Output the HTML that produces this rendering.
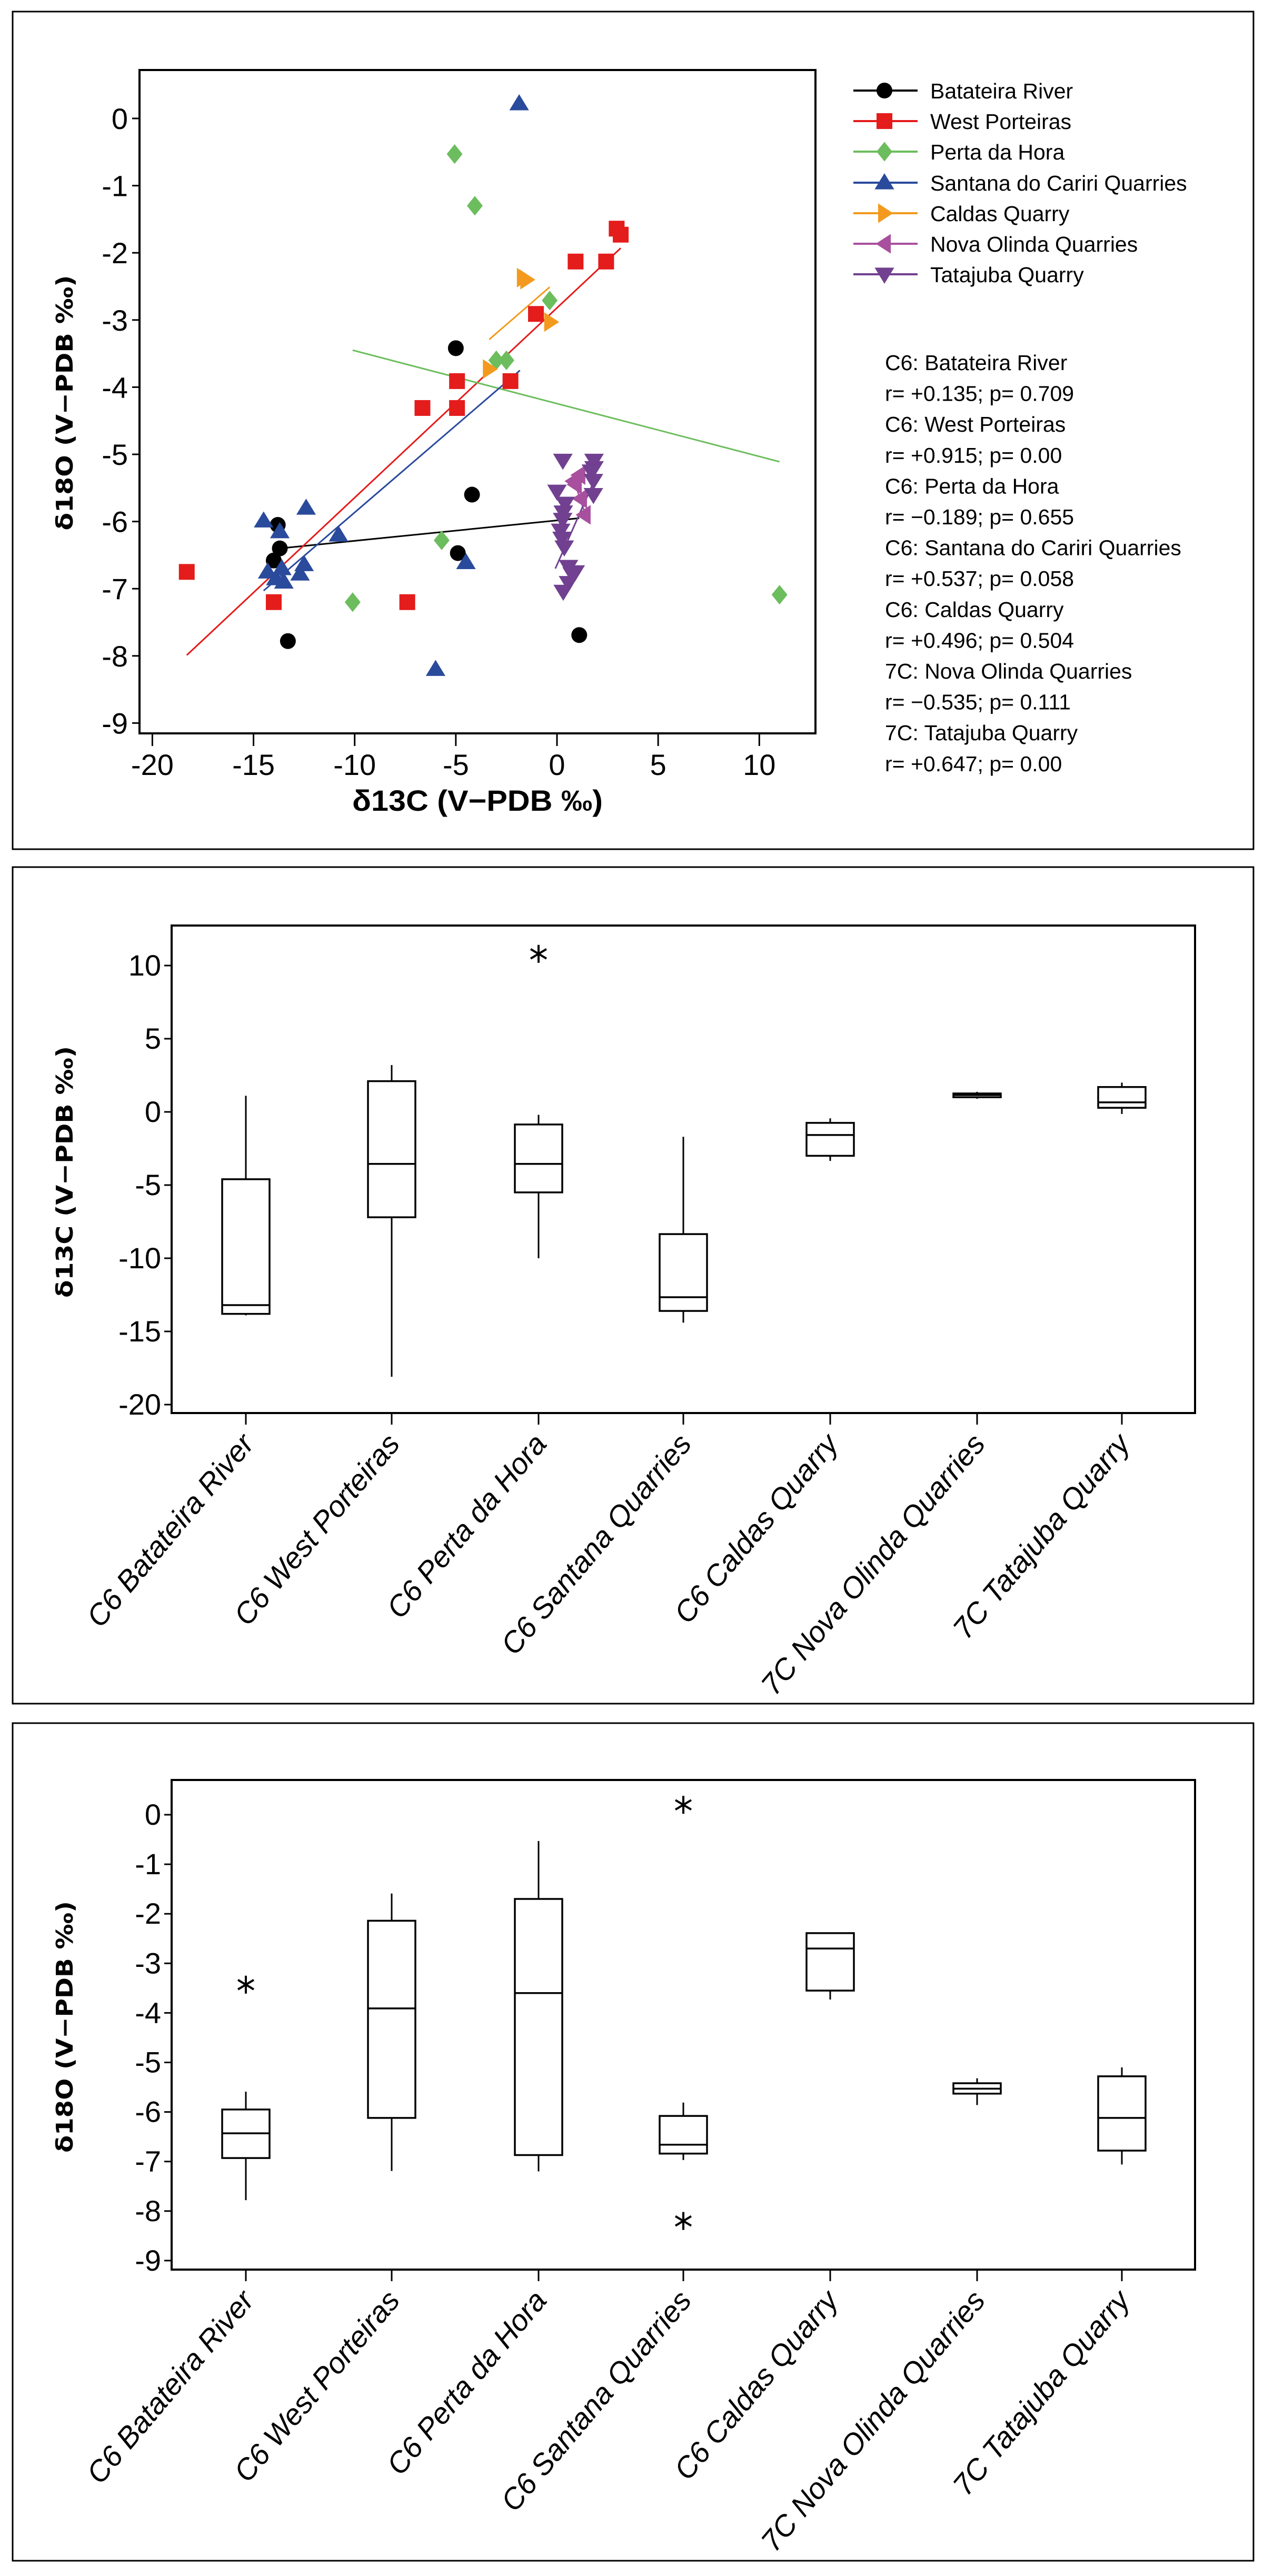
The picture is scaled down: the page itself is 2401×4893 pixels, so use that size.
<!DOCTYPE html>
<html><head><meta charset="utf-8"><style>
html,body{margin:0;padding:0;background:#fff}
svg{display:block}
text{font-family:"Liberation Sans Narrow","Liberation Sans",sans-serif;fill:#000}
.t{font-size:56px}
.lg{font-size:41px}
.bt{font-family:"DejaVu Sans","Liberation Sans",sans-serif;font-weight:bold;font-size:44px}
.xl{font-size:56px;font-style:italic}
</style></head><body>
<svg id="fig" width="2401" height="4893" viewBox="0 0 2401 4893" xmlns="http://www.w3.org/2000/svg">
<rect x="24" y="22" width="2357" height="1591" fill="none" stroke="#000" stroke-width="3"/>
<rect x="24" y="1647" width="2357" height="1589" fill="none" stroke="#000" stroke-width="3"/>
<rect x="24" y="3273" width="2357" height="1591" fill="none" stroke="#000" stroke-width="3"/>
<g id="scatter"></g>
<g id="box1"></g>
<g id="box2"></g>
</svg>
<script>
// ---------- scatter data ----------
const xTicks = [-20,-15,-10,-5,0,5,10];
const yTicks = [0,-1,-2,-3,-4,-5,-6,-7,-8,-9];
const seriesNames = ["Batateira River","West Porteiras","Perta da Hora","Santana do Cariri Quarries","Caldas Quarry","Nova Olinda Quarries","Tatajuba Quarry"];
const seriesColors = ["#000000","#e41c1c","#6cbd5d","#2a4a9c","#f39a1e","#a8509e","#714090"];
const seriesMarkers = ["circle","square","diamond","up","right","left","down"];
const batX = [-5.0,-4.2,-13.8,-13.7,-14.0,-4.9,-13.3,1.1];
const batY = [-3.42,-5.6,-6.05,-6.4,-6.58,-6.47,-7.78,-7.69];
const wpX = [-18.3,-14.0,-7.4,-6.65,-4.94,-4.94,-2.3,-1.04,0.92,2.43,2.95,3.15];
const wpY = [-6.75,-7.2,-7.2,-4.31,-3.91,-4.31,-3.91,-2.91,-2.13,-2.13,-1.64,-1.73];
const phX = [-5.06,-4.06,-0.36,-3.0,-2.5,-5.7,-10.1,11.0];
const phY = [-0.53,-1.3,-2.71,-3.6,-3.6,-6.28,-7.2,-7.09];
const scX = [-1.87,-14.5,-13.7,-12.4,-10.8,-14.3,-13.6,-13.5,-12.7,-12.5,-4.5,-6.0,-13.9];
const scY = [0.22,-5.99,-6.15,-5.8,-6.2,-6.75,-6.7,-6.9,-6.78,-6.64,-6.61,-8.2,-6.85];
const cqX = [-1.67,-1.5,-0.32,-3.35];
const cqY = [-2.37,-2.4,-3.03,-3.73];
const noX = [0.91,1.17,1.35,0.8,1.09];
const noY = [-5.45,-5.66,-5.9,-5.4,-5.31];
const tjX = [0.29,1.83,1.83,1.8,1.8,0.0,0.4,0.31,0.28,0.18,0.25,0.36,0.57,0.75,0.57,0.31,0.9,1.7];
const tjY = [-5.09,-5.09,-5.2,-5.39,-5.6,-5.55,-5.73,-5.86,-5.97,-6.13,-6.25,-6.38,-6.67,-6.78,-6.91,-7.04,-6.75,-5.25];
// fit line endpoints [x1,y1,x2,y2] per series
const fitBat = [-13.7,-6.4,1.1,-5.95];
const fitWP = [-18.3,-7.99,3.15,-1.93];
const fitPH = [-10.1,-3.45,11.0,-5.11];
const fitSC = [-14.5,-7.03,-1.83,-3.75];
const fitCQ = [-3.35,-3.29,-0.36,-2.51];
const fitNO = [0.8,-5.35,1.35,-5.85];
const fitTJ = [-0.08,-6.7,1.9,-5.35];
const statLines = ["C6: Batateira River","r= +0.135; p= 0.709","C6: West Porteiras","r= +0.915; p= 0.00","C6: Perta da Hora","r= \u22120.189; p= 0.655","C6: Santana do Cariri Quarries","r= +0.537; p= 0.058","C6: Caldas Quarry","r= +0.496; p= 0.504","7C: Nova Olinda Quarries","r= \u22120.535; p= 0.111","7C: Tatajuba Quarry","r= +0.647; p= 0.00"];

// ---------- boxplot data ----------
const boxCats = ["C6 Batateira River","C6 West Porteiras","C6 Perta da Hora","C6 Santana Quarries","C6 Caldas Quarry","7C Nova Olinda Quarries","7C Tatajuba Quarry"];
const c13Ticks = [10,5,0,-5,-10,-15,-20];
const c13Lo = [-13.9,-18.1,-10.0,-14.4,-3.35,0.9,-0.14];
const c13Q1 = [-13.8,-7.2,-5.5,-13.6,-3.0,1.0,0.28];
const c13Med = [-13.2,-3.55,-3.55,-12.66,-1.58,1.15,0.65];
const c13Q3 = [-4.6,2.1,-0.86,-8.35,-0.75,1.26,1.7];
const c13Hi = [1.1,3.2,-0.2,-1.7,-0.44,1.37,2.0];
const c13OutCat = [2];
const c13OutVal = [10.8];
const o18Ticks = [0,-1,-2,-3,-4,-5,-6,-7,-8,-9];
const o18Lo = [-7.78,-7.19,-7.2,-6.97,-3.73,-5.86,-7.06];
const o18Q1 = [-6.93,-6.12,-6.87,-6.84,-3.55,-5.63,-6.78];
const o18Med = [-6.43,-3.91,-3.6,-6.66,-2.7,-5.53,-6.12];
const o18Q3 = [-5.95,-2.14,-1.7,-6.08,-2.39,-5.42,-5.28];
const o18Hi = [-5.59,-1.59,-0.53,-5.81,-2.39,-5.32,-5.1];
const o18OutCat = [0,3,3];
const o18OutVal = [-3.43,0.2,-8.2];

const NS="http://www.w3.org/2000/svg";
function mk(parent,tag,attrs,txt){const e=document.createElementNS(NS,tag);for(const k in attrs)e.setAttribute(k,attrs[k]);if(txt!==undefined)e.textContent=txt;parent.appendChild(e);return e;}

// ---------- scatter ----------
const sc=document.getElementById('scatter');
const PL=265,PR=1549,PT=133,PB=1393;
const sx=v=>1058+v*38.43;
const sy=v=>225+(-v)*127.6;
let e=mk(sc,'rect',{x:PL,y:PT,width:PR-PL,height:PB-PT,fill:'none',stroke:'#000','stroke-width':4});


xTicks.forEach(v=>{
  const l=mk(sc,'line',{x1:sx(v),x2:sx(v),y1:PB,y2:PB+24,stroke:'#000','stroke-width':3});
  
  
  const t=mk(sc,'text',{x:sx(v),y:1472,'text-anchor':'middle',class:'t'},String(v));
  
  
});
yTicks.forEach(v=>{
  const l=mk(sc,'line',{x1:PL-14,x2:PL,y1:sy(v),y2:sy(v),stroke:'#000','stroke-width':3});
  
  
  const t=mk(sc,'text',{x:PL-22,y:sy(v)+20,'text-anchor':'end',class:'t'},String(v));
  
  
});
e=mk(sc,'text',{x:907,y:1540,'text-anchor':'middle',class:'t','font-weight':'bold','font-size':'58',textLength:476,lengthAdjust:'spacingAndGlyphs'},'\u03b413C (V\u2212PDB \u2030)');


e=mk(sc,'text',{x:0,y:0,'text-anchor':'middle',class:'bt',textLength:485,lengthAdjust:'spacingAndGlyphs',transform:'translate(138,765) rotate(-90)'},'\u03b418O (V\u2212PDB \u2030)');



function marker(g,type,cx,cy,col,s){
  let el;
  if(type==='circle') el=mk(g,'circle',{cx:cx,cy:cy,r:s*0.5,fill:col});
  else if(type==='square') el=mk(g,'rect',{x:cx-s*0.5,y:cy-s*0.5,width:s,height:s,fill:col});
  else if(type==='diamond') el=mk(g,'polygon',{points:`${cx},${cy-s*0.62} ${cx+s*0.5},${cy} ${cx},${cy+s*0.62} ${cx-s*0.5},${cy}`,fill:col});
  else if(type==='up') el=mk(g,'polygon',{points:`${cx},${cy-s*0.6} ${cx+s*0.62},${cy+s*0.42} ${cx-s*0.62},${cy+s*0.42}`,fill:col});
  else if(type==='down') el=mk(g,'polygon',{points:`${cx},${cy+s*0.6} ${cx+s*0.62},${cy-s*0.42} ${cx-s*0.62},${cy-s*0.42}`,fill:col});
  else if(type==='right') el=mk(g,'polygon',{points:`${cx+s*0.55},${cy} ${cx-s*0.4},${cy-s*0.62} ${cx-s*0.4},${cy+s*0.62}`,fill:col});
  else el=mk(g,'polygon',{points:`${cx-s*0.55},${cy} ${cx+s*0.4},${cy-s*0.62} ${cx+s*0.4},${cy+s*0.62}`,fill:col});
  return el;
}
const allX=[batX,wpX,phX,scX,cqX,noX,tjX], allY=[batY,wpY,phY,scY,cqY,noY,tjY];
const fits=[fitBat,fitWP,fitPH,fitSC,fitCQ,fitNO,fitTJ];
const slugs=['batateira','west-porteiras','perta-da-hora','santana','caldas','nova-olinda','tatajuba'];
fits.forEach((f,i)=>{
  const l=mk(sc,'line',{x1:sx(f[0]),y1:sy(f[1]),x2:sx(f[2]),y2:sy(f[3]),stroke:seriesColors[i],'stroke-width':3});
  
  
});
allX.forEach((xs,i)=>{
  xs.forEach((xv,j)=>{
    const m=marker(sc,seriesMarkers[i],sx(xv),sy(allY[i][j]),seriesColors[i],30);
    
    
  });
});
// legend
const legY=[172,230,288,347,405,463,521];
seriesNames.forEach((n,i)=>{
  const g=mk(sc,'g',{});
  
  
  mk(g,'line',{x1:1621,x2:1743,y1:legY[i],y2:legY[i],stroke:seriesColors[i],'stroke-width':4});
  marker(g,seriesMarkers[i],1680,legY[i],seriesColors[i],30);
  mk(g,'text',{x:1767,y:legY[i]+15,class:'lg'},n);
});
statLines.forEach((s,i)=>{
  const t=mk(sc,'text',{x:1681,y:703+i*58.6,class:'lg'},s);
  
  
});

// ---------- boxplots ----------
const catX=[467,744,1023,1298,1577,1856,2131];
function asterisk(g,cx,cy){
  const a=mk(g,'g',{stroke:'#000','stroke-width':4});
  mk(a,'line',{x1:cx,x2:cx,y1:cy-17,y2:cy+17});
  mk(a,'line',{x1:cx-15,x2:cx+15,y1:cy-9,y2:cy+9});
  mk(a,'line',{x1:cx-15,x2:cx+15,y1:cy+9,y2:cy-9});
  return a;
}
function boxplot(gid,top,bot,yfun,ticks,lo,q1,med,q3,hi,oc,ov,title,titleY){
  const g=document.getElementById(gid);
  const L=326,R=2270;
  let r=mk(g,'rect',{x:L,y:top,width:R-L,height:bot-top,fill:'none',stroke:'#000','stroke-width':4});
  
  
  ticks.forEach(v=>{
    const l=mk(g,'line',{x1:L-14,x2:L,y1:yfun(v),y2:yfun(v),stroke:'#000','stroke-width':3});
    
    
    const t=mk(g,'text',{x:L-20,y:yfun(v)+19,'text-anchor':'end',class:'t','font-size':'54'},String(v));
    
    
  });
  const t=mk(g,'text',{x:0,y:0,'text-anchor':'middle',class:'bt',textLength:478,lengthAdjust:'spacingAndGlyphs',transform:`translate(138,${titleY}) rotate(-90)`},title);
  
  
  const hw=45;
  boxCats.forEach((c,i)=>{
    const x=catX[i];
    const tk=mk(g,'line',{x1:x,x2:x,y1:bot,y2:bot+22,stroke:'#000','stroke-width':3});
    
    
    const lb=mk(g,'text',{x:0,y:0,'text-anchor':'end',class:'xl',transform:`translate(${x+18},${bot+60}) rotate(-50)`},c);
    
    
    const bg=mk(g,'g',{});
    
    
    mk(bg,'line',{x1:x,x2:x,y1:yfun(hi[i]),y2:yfun(q3[i]),stroke:'#000','stroke-width':3});
    mk(bg,'line',{x1:x,x2:x,y1:yfun(q1[i]),y2:yfun(lo[i]),stroke:'#000','stroke-width':3});
    mk(bg,'rect',{x:x-hw,y:yfun(q3[i]),width:2*hw,height:Math.max(1,yfun(q1[i])-yfun(q3[i])),fill:'#fff',stroke:'#000','stroke-width':3.5});
    mk(bg,'line',{x1:x-hw,x2:x+hw,y1:yfun(med[i]),y2:yfun(med[i]),stroke:'#000','stroke-width':3.5});
  });
  oc.forEach((ci,k)=>{
    const o=asterisk(g,catX[ci],yfun(ov[k]));
    
    
  });
}
boxplot('box1',1758,2684,v=>1834+(10-v)*27.8,c13Ticks,c13Lo,c13Q1,c13Med,c13Q3,c13Hi,c13OutCat,c13OutVal,'\u03b413C (V\u2212PDB \u2030)',2226);
boxplot('box2',3381,4311,v=>3447+(-v)*94.1,o18Ticks,o18Lo,o18Q1,o18Med,o18Q3,o18Hi,o18OutCat,o18OutVal,'\u03b418O (V\u2212PDB \u2030)',3850);
</script>
</body></html>
